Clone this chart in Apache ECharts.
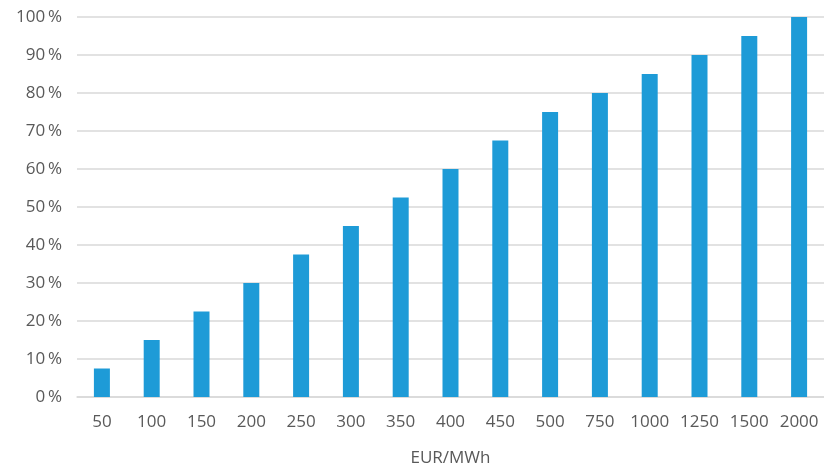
<!DOCTYPE html>
<html><head><meta charset="utf-8">
<script src="https://cdn.jsdelivr.net/npm/echarts@6/dist/echarts.min.js"></script>
<style>html,body{margin:0;padding:0;background:#fff}#c{width:824px;height:468px}</style>
</head><body><div id="c"></div>
<script>
const categories = ['50','100','150','200','250','300','350','400','450','500','750','1000','1250','1500','2000'];
const shares = [7.5, 15, 22.5, 30, 37.5, 45, 52.5, 60, 67.5, 75, 80, 85, 90, 95, 100];
const xAxisName = 'EUR/MWh';
const font = 'Open Sans';
const chart = echarts.init(document.getElementById('c'));
chart.setOption({
  animation: false,
  grid: {left: 77, right: 0, top: 17, bottom: 71, containLabel: false, outerBoundsMode: 'none'},
  xAxis: {
    type: 'category', data: categories,
    name: xAxisName, nameLocation: 'middle', nameGap: 53,
    nameTextStyle: {color: '#595959', fontSize: 17, fontFamily: font},
    axisLine: {show: true, lineStyle: {color: '#d9d9d9', width: 1.5}},
    axisTick: {show: false},
    axisLabel: {color: '#595959', fontSize: 17, fontFamily: font, margin: 17, interval: 0}
  },
  yAxis: {
    type: 'value', min: 0, max: 100, interval: 10,
    axisLine: {show: false}, axisTick: {show: false},
    splitLine: {lineStyle: {color: '#d9d9d9', width: 1.5}},
    axisLabel: {color: '#595959', fontSize: 17, fontFamily: font, margin: 15,
      formatter: v => v + '\u2009%'}
  },
  series: [{
    type: 'bar', data: shares, barWidth: 16,
    itemStyle: {color: '#1e9bd7'}
  }]
});
</script></body></html>
